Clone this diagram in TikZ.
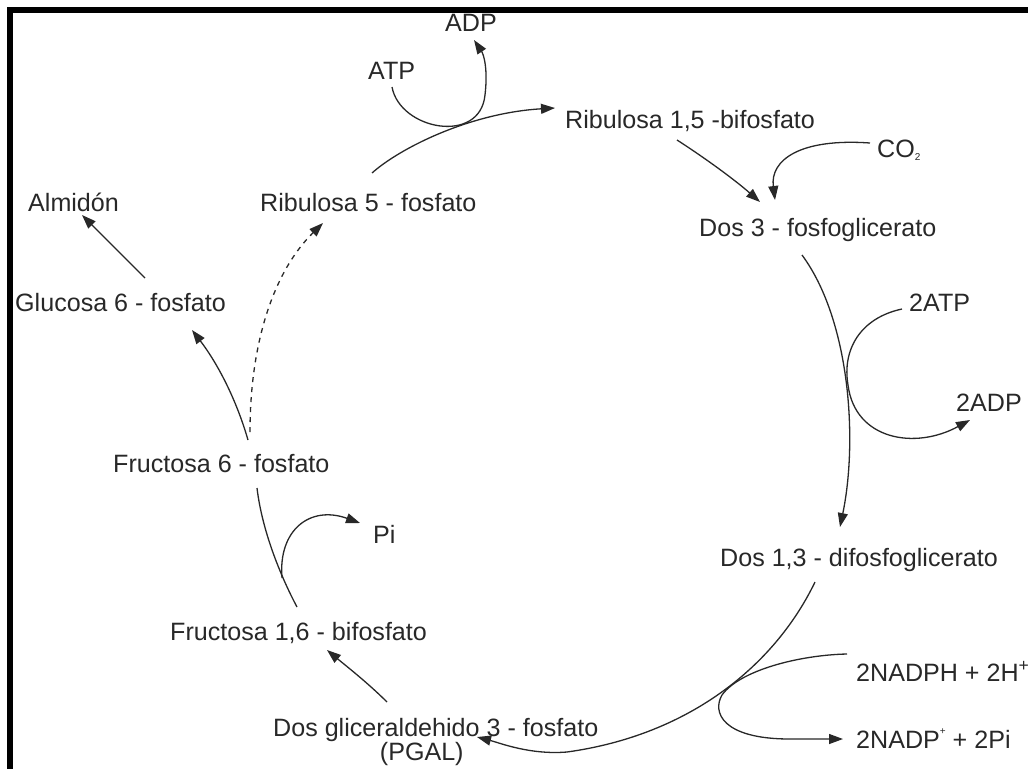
\documentclass[tikz,border=0pt]{standalone}
\usepackage{fontspec}
\setmainfont{Liberation Sans}
\usetikzlibrary{arrows.meta}
\definecolor{ink}{RGB}{40,40,40}
\begin{document}
\begin{tikzpicture}[x=1pt,y=-1pt,
  lbl/.style={anchor=base west,inner sep=0pt,text=ink,font=\fontsize{25.1}{28}\selectfont},
  flow/.style={draw=ink,line width=1.3pt},
  tip/.style={flow,-{Triangle[length=14pt,width=10pt]}},
  dotted flow/.style={tip,dash pattern=on 5pt off 5pt}]
\useasboundingbox (0,0) rectangle (1028,769);
% frame along the left and top edges
\fill[black] (7,7) rectangle (13,769);
\fill[black] (7,7) rectangle (1028,13);

% labels of the cycle
\node[lbl] (adp)  at (445,31)  {ADP};
\node[lbl] (atp)  at (368,79)  {ATP};
\node[lbl] (rubp) at (565,128) {Ribulosa 1,5 -bifosfato};
\node[lbl] (co2)  at (877,157) {CO\raisebox{-0.12em}{\fontsize{10}{10}\selectfont 2}};
\node[lbl] (pga)  at (699,236) {Dos 3 - fosfoglicerato};
\node[lbl] (alm)  at (28,211)  {Almidón};
\node[lbl] (ru5p) at (260,211) {Ribulosa 5 - fosfato};
\node[lbl] (g6p)  at (15,311)  {Glucosa 6 - fosfato};
\node[lbl] (atp2) at (909,311) {2ATP};
\node[lbl] (adp2) at (956,411) {2ADP};
\node[lbl] (f6p)  at (113,472) {Fructosa 6 - fosfato};
\node[lbl] (pi)   at (373,543) {Pi};
\node[lbl] (bpg)  at (720,566) {Dos 1,3 - difosfoglicerato};
\node[lbl] (fbp)  at (170,640) {Fructosa 1,6 - bifosfato};
\node[lbl] (nadph) at (856,681) {2NADPH + 2H\textsuperscript{+}};
\node[lbl,anchor=north west,align=center,font=\fontsize{25.1}{20}\selectfont] (gap) at (273,718)
  {Dos gliceraldehido 3 - fosfato\\\hspace*{-28pt}(PGAL)};
\node[lbl] (nadp) at (856,748) {2NADP\raisebox{0.55em}{\fontsize{10}{10}\selectfont +} + 2Pi};

% ATP -> ADP loop
\draw[tip] ([shift={(24,8)}]atp.base west)
  .. controls (400,130) and (480,145) .. (485,95)
  .. controls (488,70) and (484,55) .. ([shift={(29,9)}]adp.base west);
% Ribulosa 5-fosfato -> Ribulosa 1,5-bifosfato
\draw[tip] ([shift={(112,-38)}]ru5p.base west)
  .. controls (400,148) and (470,113) .. ([shift={(-10,-20)}]rubp.base west);
% Ribulosa 1,5-bifosfato -> Dos 3-fosfoglicerato
\draw[tip] ([shift={(112,12)}]rubp.base west)
  .. controls (705,158) and (735,180) .. ([shift={(61,-34)}]pga.base west);
% CO2 -> Dos 3-fosfoglicerato
\draw[tip] ([shift={(-7,-14)}]co2.base west)
  .. controls (800,138) and (770,160) .. ([shift={(76,-36)}]pga.base west);
% Dos 3-fosfoglicerato -> Dos 1,3-difosfoglicerato
\draw[tip] ([shift={(103,19)}]pga.base west)
  .. controls (850,320) and (858,440) .. ([shift={(120,-39)}]bpg.base west);
% 2ATP -> 2ADP
\draw[tip] ([shift={(-7,-2)}]atp2.base west)
  .. controls (860,318) and (842,350) .. (848,385)
  .. controls (855,440) and (915,450) .. ([shift={(14,9)}]adp2.base west);
% Dos 1,3-difosfoglicerato -> PGAL
\draw[tip] ([shift={(95,16)}]bpg.base west)
  .. controls (775,665) and (690,735) .. (567,752)
  .. controls (530,755) and (500,743) .. ([shift={(204,19)}]gap.north west);
% 2NADPH + 2H+ -> 2NADP+ + 2Pi
\draw[tip] ([shift={(-9,-27)}]nadph.base west)
  .. controls (800,655) and (740,670) .. (722,695)
  .. controls (712,712) and (722,739) .. (790,739)
  -- ([shift={(-13,-9)}]nadp.base west);
% PGAL -> Fructosa 1,6-bifosfato
\draw[tip] ([shift={(114,-16)}]gap.north west)
  .. controls (368,683) and (345,665) .. ([shift={(157,10)}]fbp.base west);
% Fructosa 1,6-bifosfato -- Fructosa 6-fosfato
\draw[flow] ([shift={(127,-33)}]fbp.base west)
  .. controls (280,575) and (262,530) .. ([shift={(144,16)}]f6p.base west);
% release of Pi
\draw[tip] ([shift={(112,-62)}]fbp.base west)
  .. controls (278,530) and (310,505) .. ([shift={(-13,-20)}]pi.base west);
% Fructosa 6-fosfato -> Glucosa 6-fosfato
\draw[tip] ([shift={(135,-32)}]f6p.base west)
  .. controls (235,395) and (215,360) .. ([shift={(177,19)}]g6p.base west);
% Fructosa 6-fosfato -> Ribulosa 5-fosfato (dashed)
\draw[dotted flow] ([shift={(137,-40)}]f6p.base west)
  .. controls (250,340) and (275,270) .. ([shift={(63,12)}]ru5p.base west);
% Glucosa 6-fosfato -> Almidón
\draw[tip] ([shift={(130,-33)}]g6p.base west) -- ([shift={(54,4)}]alm.base west);
\end{tikzpicture}
\end{document}
